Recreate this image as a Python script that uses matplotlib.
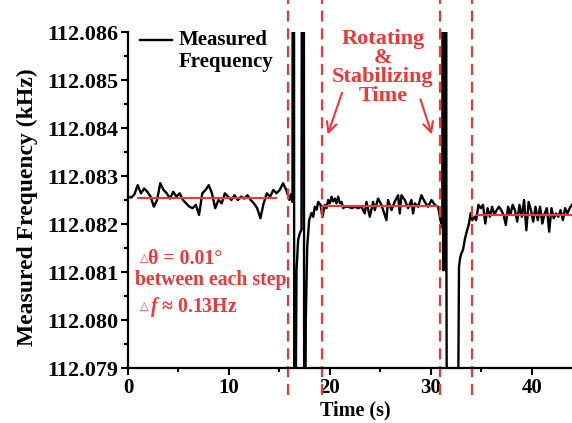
import numpy as np
import matplotlib
matplotlib.use("Agg")
import matplotlib.pyplot as plt
from matplotlib.ticker import MultipleLocator, FormatStrFormatter

plt.rcParams['font.family'] = ['Liberation Serif', 'DejaVu Sans']
plt.rcParams['font.weight'] = 'bold'
plt.rcParams['mathtext.fontset'] = 'custom'
plt.rcParams['mathtext.it'] = 'Liberation Serif:italic:bold'
plt.rcParams['mathtext.rm'] = 'Liberation Serif:bold'

# measured frequency, stored as Hz above 112.080 kHz
base_khz = 112.080

# first plateau, evenly sampled from 0 to 16 s
seg1_hz = [2.57, 2.55, 2.62, 2.81, 2.64, 2.74, 2.67, 2.57, 2.36, 2.50,
           2.85, 2.71, 2.64, 2.53, 2.67, 2.57, 2.64, 2.50, 2.43, 2.36,
           2.33, 2.40, 2.19, 2.64, 2.71, 2.81, 2.64, 2.33, 2.50, 2.43,
           2.64, 2.57, 2.50, 2.60, 2.50, 2.57, 2.53, 2.60, 2.50, 2.43,
           2.33, 2.12, 2.43, 2.64, 2.57, 2.71, 2.64, 2.71, 2.85, 2.71,
           2.50]
seg1_t = np.linspace(0.0, 16.0, len(seg1_hz))

# first rotation step (spikes leave the plotted range)
step1_t = [16.15, 16.30, 16.32, 16.45, 16.47, 16.58, 16.70, 16.86, 17.03, 17.19,
           17.24, 17.42, 17.46, 17.55, 17.62, 17.76, 17.95, 18.18, 18.35, 18.51,
           18.70, 18.84, 19.08, 19.27]
step1_hz = [2.62, 2.46, 9.0, 9.0, -3.0, -3.0, 1.04, 1.67, 1.81, 1.88,
            9.0, 9.0, -3.0, -3.0, 0.0, 1.53, 2.08, 2.23, 2.15, 2.36,
            2.30, 2.46, 2.40, 2.15]

# second plateau
seg2_t = [19.50, 19.67, 19.83, 20.00, 20.17, 20.33, 20.50, 20.67, 20.83, 21.00,
          21.17, 21.33, 21.50, 21.83, 22.17, 22.50, 22.80, 23.13, 23.46, 23.63,
          23.96, 24.29, 24.46, 24.78, 25.11, 25.44, 25.61, 25.77, 26.11, 26.44,
          26.77, 26.93, 27.10, 27.43, 27.76, 28.09, 28.25, 28.42, 28.75, 29.08,
          29.41, 29.74, 30.07, 30.40, 30.73]
seg2_hz = [2.40, 2.33, 2.50, 2.43, 2.57, 2.47, 2.53, 2.43, 2.57, 2.43,
           2.46, 2.33, 2.36, 2.36, 2.33, 2.36, 2.33, 2.36, 2.22, 2.46,
           2.15, 2.46, 2.29, 2.53, 2.40, 2.19, 2.08, 2.50, 2.29, 2.47,
           2.60, 2.22, 2.60, 2.50, 2.33, 2.50, 2.22, 2.43, 2.36, 2.60,
           2.46, 2.36, 2.50, 2.40, 2.36]

# second rotation step
step2_t = [30.96, 31.15, 31.20, 31.24, 31.28, 31.32, 31.36, 31.40, 31.44, 31.48,
           31.52, 31.56, 31.60, 32.68, 32.80, 32.92, 33.04, 33.20, 33.37, 33.53,
           33.79, 33.96, 34.12, 34.36]
step2_hz = [2.08, 1.92, 9.0, 1.04, 9.0, 1.04, 9.0, 1.04, 9.0, 1.04,
            9.0, 1.04, -3.0, -3.0, 1.11, 1.30, 1.39, 1.46, 1.67, 1.81,
            2.01, 2.23, 2.08, 2.15]

# third plateau, evenly sampled from 34.5 to 44 s
seg3_hz = [2.08, 2.40, 2.33, 2.40, 2.01, 2.33, 2.15, 2.36, 2.19, 2.29,
           2.36, 2.29, 2.19, 1.98, 2.36, 2.19, 2.40, 2.29, 2.05, 2.40,
           2.15, 2.50, 1.87, 2.46, 2.29, 2.05, 2.36, 2.08, 2.36, 2.01,
           2.22, 2.33, 1.84, 2.33, 2.12, 2.22, 2.15, 2.29, 2.08, 2.33,
           2.22, 2.33, 2.40]
seg3_t = np.linspace(34.5, 44.0, len(seg3_hz))

# average level of each plateau (red lines)
fit_start = [1.0, 19.3, 34.5]
fit_end = [14.7, 30.6, 44.0]
fit_hz = [2.54, 2.37, 2.19]

# boundaries of the rotating & stabilizing intervals
bounds = [15.9, 19.2, 30.9, 34.1]

t = np.concatenate([seg1_t, step1_t, seg2_t, step2_t, seg3_t])
f = base_khz + np.concatenate([seg1_hz, step1_hz, seg2_hz, step2_hz, seg3_hz]) / 1000.0

red = '#f23535'

fig = plt.figure(figsize=(5.72, 4.23), dpi=100)
ax = fig.add_axes([0.2238, 0.130, 0.7762, 0.7943])

ax.plot(t, f, color='black', lw=1.7)
for s, e, h in zip(fit_start, fit_end, fit_hz):
    ax.plot([s, e], [base_khz + h / 1000.0] * 2, color=red, lw=1.5)

for b in bounds:
    ax.plot([b, b], [-0.08, 1.095], transform=ax.get_xaxis_transform(),
            color=red, lw=1.6, dashes=(5, 3), clip_on=False)

ax.set_xlim(0, 44)
ax.set_ylim(112.079, 112.086)
ax.xaxis.set_major_locator(MultipleLocator(10))
ax.xaxis.set_minor_locator(MultipleLocator(5))
ax.yaxis.set_major_locator(MultipleLocator(0.001))
ax.yaxis.set_minor_locator(MultipleLocator(0.0005))
ax.yaxis.set_major_formatter(FormatStrFormatter('%.3f'))
ax.spines['top'].set_visible(False)
ax.spines['right'].set_visible(False)
for sp in ['left', 'bottom']:
    ax.spines[sp].set_linewidth(1.6)
ax.tick_params(which='major', length=5, width=1.5, pad=2)
ax.tick_params(which='minor', length=3, width=1.5)
ax.tick_params(axis='x', labelsize=15)
ax.tick_params(axis='y', labelsize=16)

ax.set_xlabel('Time (s)', fontsize=14.5, fontweight='bold')
ax.xaxis.set_label_coords(0.511, -0.097)
ax.set_ylabel('Measured Frequency (kHz)', fontsize=17, fontweight='bold')
ax.yaxis.set_label_coords(-0.203, 0.48)

# legend entry
ax.plot([0.027, 0.099], [0.976, 0.976], transform=ax.transAxes, color='black', lw=1.7, clip_on=False)
ax.text(0.113, 1.006, 'Measured\nFrequency', transform=ax.transAxes, fontsize=15,
        fontweight='bold', ha='left', va='top', linespacing=1.1)

ax.text(25.25, 1.008, 'Rotating\n&\nStabilizing\nTime', transform=ax.get_xaxis_transform(),
        color=red, fontsize=16, fontweight='bold', ha='center', va='top', linespacing=0.93)
ax.annotate('', xy=(19.7, 112.08381), xytext=(21.3, 112.08479),
            arrowprops=dict(arrowstyle='->', color=red, lw=1.5, mutation_scale=18))
ax.annotate('', xy=(30.2, 112.08381), xytext=(28.9, 112.08465),
            arrowprops=dict(arrowstyle='->', color=red, lw=1.5, mutation_scale=18))

ax.text(1.2, 112.08127, '△', color=red, fontsize=8, va='center', ha='left')
ax.text(2.0, 112.08127, 'θ = 0.01°', color=red, fontsize=14.2, fontweight='bold', va='center')
ax.text(0.7, 112.08083, 'between each step', color=red, fontsize=14.2, fontweight='bold', va='center')
ax.text(1.2, 112.08027, '△', color=red, fontsize=8, va='center', ha='left')
ax.text(2.2, 112.08027, '$f$ ≈ 0.13Hz', color=red, fontsize=14.2, fontweight='bold', va='center')

fig.savefig('out.png', dpi=100)
